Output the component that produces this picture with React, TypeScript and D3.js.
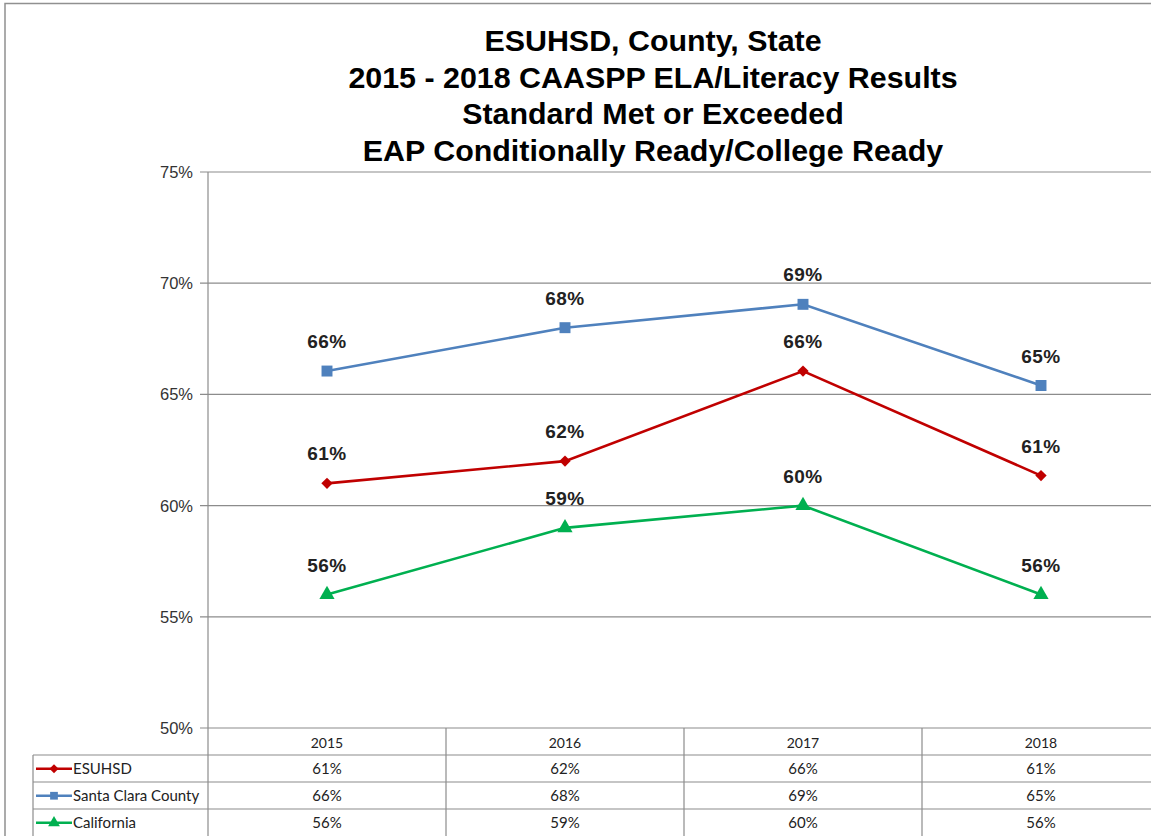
import { useEffect, useRef } from 'react';
import * as d3 from 'd3';

const years = ['2015', '2016', '2017', '2018'];
const seriesNames = ['ESUHSD', 'Santa Clara County', 'California'];
const esuhsd = [61.0, 62.0, 66.05, 61.35];
const county = [66.05, 68.0, 69.05, 65.4];
const california = [56.0, 59.0, 60.0, 56.0];
const tableLabels = [
  ['61%', '62%', '66%', '61%'],
  ['66%', '68%', '69%', '65%'],
  ['56%', '59%', '60%', '56%'],
];
const yTicks = [50, 55, 60, 65, 70, 75];
const titleLines = [
  'ESUHSD, County, State',
  '2015 - 2018 CAASPP ELA/Literacy Results',
  'Standard Met or Exceeded',
  'EAP Conditionally Ready/College Ready',
];
const colors = ['#C00000', '#4F81BD', '#00B050'];
const symbols = [d3.symbolSquare, d3.symbolSquare, d3.symbolTriangle];
const rotations = [45, 0, 0];

export default function App() {
  const svgRef = useRef<SVGSVGElement | null>(null);

  useEffect(() => {
    if (!svgRef.current) return;
    const svg = d3.select(svgRef.current);
    svg.selectAll('*').remove();

    const width = 1151;
    const height = 836;
    const left = 208, right = 1160, top = 172, bottom = 728;
    const font = 'Liberation Sans, Arial, Helvetica, sans-serif';
    const tableFont = 'Lato, Carlito, Calibri, sans-serif';
    const grid = '#8c8c8c';

    svg.append('rect').attr('width', width).attr('height', height).attr('fill', '#fff');

    // outer chart frame
    svg.append('rect')
      .attr('x', 5).attr('y', 3.5).attr('width', 1200).attr('height', 900)
      .attr('fill', 'none').attr('stroke', '#909090').attr('stroke-width', 1.5);

    const x = d3.scaleBand().domain(years).range([left, right]);
    const y = d3.scaleLinear().domain([50, 75]).range([bottom, top]);

    // Title
    titleLines.forEach((t, i) => {
      svg.append('text')
        .attr('x', 653).attr('y', 51 + i * 36.5)
        .attr('text-anchor', 'middle')
        .attr('font-family', font).attr('font-weight', 'bold').attr('font-size', '30.4px')
        .attr('fill', '#000')
        .text(t);
    });

    // gridlines + y axis
    const g = svg.append('g');
    yTicks.forEach((v) => {
      g.append('line')
        .attr('x1', left - 8).attr('x2', right)
        .attr('y1', y(v)).attr('y2', y(v))
        .attr('stroke', grid).attr('stroke-width', 1.2);
      g.append('text')
        .attr('x', 193).attr('y', y(v) + 6)
        .attr('text-anchor', 'end')
        .attr('font-family', font).attr('font-size', '16.5px').attr('fill', '#333')
        .text(`${v}%`);
    });
    g.append('line')
      .attr('x1', left).attr('x2', left).attr('y1', top).attr('y2', height)
      .attr('stroke', grid).attr('stroke-width', 1.2);

    // Series
    const allSeries = [esuhsd, county, california];
    const line = d3.line<number>()
      .x((_, i) => (x(years[i]) as number) + x.bandwidth() / 2)
      .y((d) => y(d));

    allSeries.forEach((vals, si) => {
      svg.append('path')
        .attr('d', line(vals))
        .attr('fill', 'none')
        .attr('stroke', colors[si])
        .attr('stroke-width', 2.6);
      vals.forEach((v, i) => {
        const cx = (x(years[i]) as number) + x.bandwidth() / 2;
        svg.append('path')
          .attr('d', d3.symbol().type(symbols[si]).size(si === 0 ? 64 : si === 1 ? 120 : 100)())
          .attr('transform', `translate(${cx},${y(v)}) rotate(${rotations[si]})`)
          .attr('fill', colors[si]);
        svg.append('text')
          .attr('x', cx).attr('y', y(v) - 23)
          .attr('text-anchor', 'middle')
          .attr('font-family', font).attr('font-weight', 'bold').attr('font-size', '19px')
          .attr('letter-spacing', '0.5px')
          .attr('fill', '#222')
          .text(tableLabels[si][i]);
      });
    });

    // Data table
    const rowTop = [bottom, 755, 782, 809];
    const rowH = 27.5;
    const tb = svg.append('g');
    [755, 782, 809].forEach((ry) => {
      tb.append('line')
        .attr('x1', 33).attr('x2', right).attr('y1', ry).attr('y2', ry)
        .attr('stroke', grid).attr('stroke-width', 1.2);
    });
    tb.append('line')
      .attr('x1', 33).attr('x2', 33).attr('y1', 755).attr('y2', height)
      .attr('stroke', grid).attr('stroke-width', 1.2);
    years.forEach((yr) => {
      const bx = (x(yr) as number) + x.bandwidth();
      tb.append('line')
        .attr('x1', bx).attr('x2', bx).attr('y1', bottom).attr('y2', height)
        .attr('stroke', grid).attr('stroke-width', 1.2);
      tb.append('text')
        .attr('x', (x(yr) as number) + x.bandwidth() / 2).attr('y', 748)
        .attr('text-anchor', 'middle')
        .attr('font-family', tableFont).attr('font-size', '14px').attr('fill', '#222')
        .text(yr);
    });
    seriesNames.forEach((name, si) => {
      const cy = rowTop[si + 1] + rowH / 2;
      tb.append('line')
        .attr('x1', 36).attr('x2', 72).attr('y1', cy).attr('y2', cy)
        .attr('stroke', colors[si]).attr('stroke-width', 2.6);
      tb.append('path')
        .attr('d', d3.symbol().type(symbols[si]).size(si === 0 ? 40 : 60)())
        .attr('transform', `translate(54,${cy}) rotate(${rotations[si]})`)
        .attr('fill', colors[si]);
      tb.append('text')
        .attr('x', 73).attr('y', cy + 5)
        .attr('font-family', tableFont).attr('font-size', '15px').attr('fill', '#222')
        .text(name);
      years.forEach((yr, i) => {
        tb.append('text')
          .attr('x', (x(yr) as number) + x.bandwidth() / 2).attr('y', cy + 5)
          .attr('text-anchor', 'middle')
          .attr('font-family', tableFont).attr('font-size', '15px').attr('fill', '#222')
          .text(tableLabels[si][i]);
      });
    });
  }, []);

  return (
    <svg
      ref={svgRef}
      width={1151}
      height={836}
      style={{ position: 'absolute', left: 0, top: 0, display: 'block' }}
    />
  );
}
